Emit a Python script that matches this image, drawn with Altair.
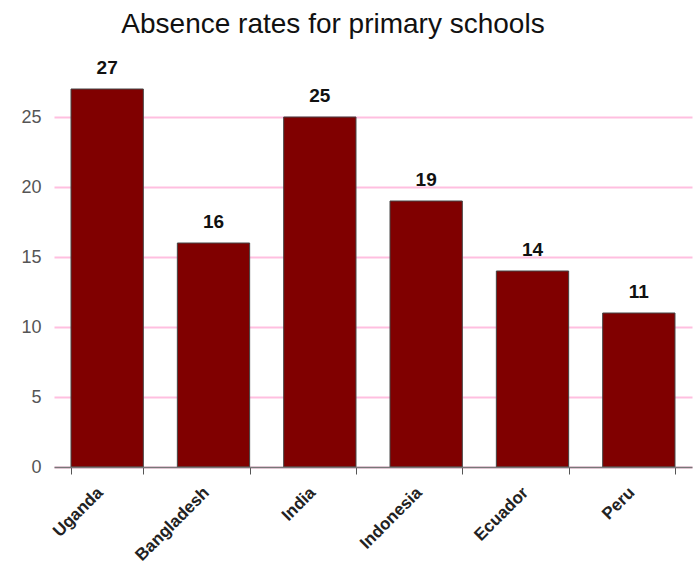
import altair as alt
import pandas as pd

countries = ["Uganda", "Bangladesh", "India", "Indonesia", "Ecuador", "Peru"]
rates = [27, 16, 25, 19, 14, 11]
y_ticks = [0, 5, 10, 15, 20, 25]

df = pd.DataFrame({"country": countries, "rate": rates})

x = alt.X("country:N", sort=countries, title=None,
          scale=alt.Scale(paddingInner=0.32, paddingOuter=0.16),
          axis=alt.Axis(labelAngle=-45, labelAlign="right", labelBaseline="top",
                        labelFont="Liberation Sans", labelFontSize=17, labelFontWeight="bold",
                        labelColor="#222", domainColor="#777", domainWidth=1.5,
                        tickColor="#555", tickBand="extent", tickSize=7,
                        labelPadding=10, labelOffset=-13, grid=False, zindex=1))
y = alt.Y("rate:Q", title=None,
          scale=alt.Scale(domain=[0, 30], nice=False),
          axis=alt.Axis(values=y_ticks, domain=False, ticks=False, labelPadding=13,
                        labelFont="Liberation Sans", labelFontSize=18, labelColor="#555",
                        grid=True, gridColor="#ffbfe0", gridWidth=2, gridOpacity=1))

base = alt.Chart(df).encode(x=x, y=y)
bars = base.mark_bar(color="#800000", stroke="#444", strokeWidth=1)
text = base.mark_text(dy=-15, baseline="alphabetic", font="Liberation Sans", fontSize=19,
                      fontWeight="bold", color="#111").encode(text="rate:Q")

chart = (bars + text).properties(
    width=638, height=420,
    background="white",
    title=alt.TitleParams("Absence rates for primary schools", font="Liberation Sans",
                          fontSize=28, fontWeight="normal", color="#111", anchor="middle",
                          offset=8, dx=-40),
    padding={"left": 54, "top": 47, "right": 5, "bottom": 100},
    autosize=alt.AutoSizeParams(type="none"),
).configure_view(stroke=None)

chart.save("out.html", embed_options={"renderer": "svg", "actions": False})
